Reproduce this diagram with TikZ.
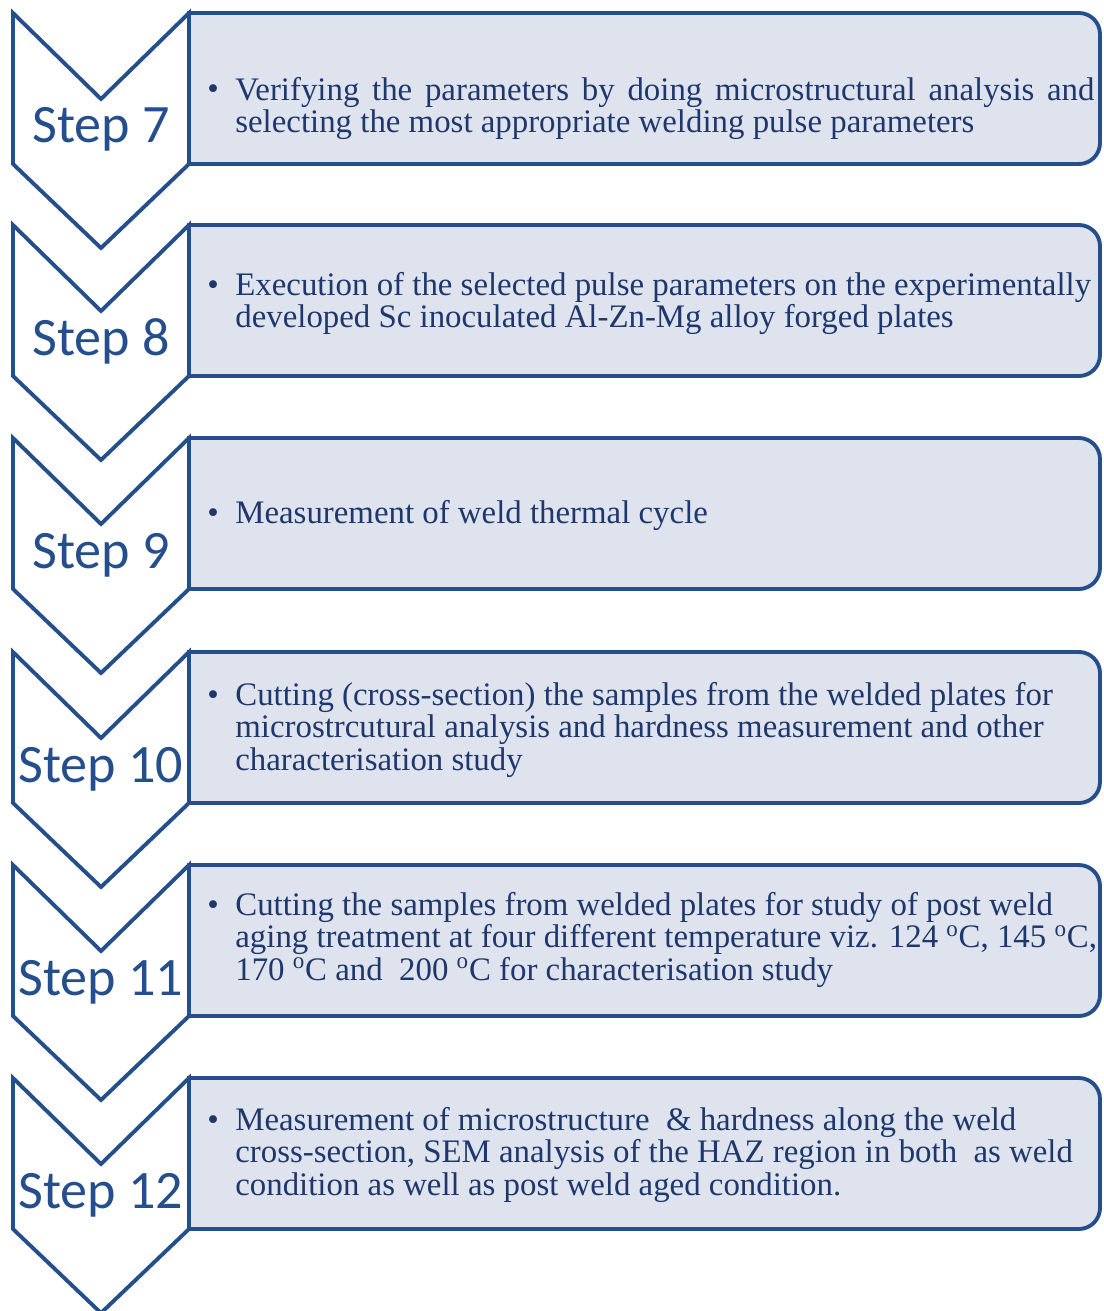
\documentclass[tikz,border=0pt]{standalone}
\usepackage{fontspec}
\setmainfont{Liberation Serif}
\newfontfamily\stepfont{Carlito}
\usetikzlibrary{calc}
\definecolor{stepblue}{RGB}{36,78,140}
\definecolor{textblue}{RGB}{30,56,110}
\definecolor{boxfill}{RGB}{222,227,238}
\def\chevron(#1){\draw[line width=2.2pt, color=stepblue, fill=white, line join=miter] (13, #1) -- (101, #1+86) -- (189, #1) -- (189, #1+151) -- (101, #1+235) -- (13, #1+151) -- cycle;}
\def\panel(#1){\draw[line width=2.2pt, color=stepblue, fill=boxfill] (189, #1) [rounded corners=12pt] -- (1100, #1) -- (1100, #1+151) [sharp corners] -- (189, #1+151) -- cycle;}

\begin{document}
\begin{tikzpicture}[x=0.02cm, y=-0.02cm]
			%%%%% START %%%%%
			\useasboundingbox (0, 0) rectangle (1103, 1311);
			\tikzset{steplabel/.style={font=\stepfont\fontsize{30.8}{32}\selectfont, text=stepblue, anchor=base, inner sep=0pt},
				bullettext/.style={font=\fontsize{18.7}{18.4}\selectfont, text=textblue, anchor=base west, align=left, inner sep=0pt}}
			
			\panel(13)
			\panel(225)
			\panel(438)
			\panel(652)
			\panel(865)
			\panel(1078)
			
			\chevron(13)
			\chevron(225)
			\chevron(438)
			\chevron(652)
			\chevron(865)
			\chevron(1078)
			
			\node[steplabel] (lbl7) at (101, 143) {Step 7};
			\node[steplabel] (lbl8) at (101, 355) {Step 8};
			\node[steplabel] (lbl9) at (101, 568) {Step 9};
			\node[steplabel] (lbl10) at (101, 782) {Step 10};
			\node[steplabel] (lbl11) at (101, 995) {Step 11};
			\node[steplabel] (lbl12) at (101, 1208) {Step 12};
			
			% text nodes sit on the baseline of their last line
			\node[bullettext] (bul7) at (207, 100) {\textbullet};
			\node[bullettext] (txt7) at (235, 132.5) {\makebox[489pt][s]{Verifying the parameters by doing microstructural analysis and}\\selecting the most appropriate welding pulse parameters};
			
			\node[bullettext] (bul8) at (207, 295) {\textbullet};
			\node[bullettext] (txt8) at (235, 327.5) {Execution of the selected pulse parameters on the experimentally\\developed Sc inoculated Al-Zn-Mg alloy forged plates};
			
			\node[bullettext] (bul9) at (207, 523) {\textbullet};
			\node[bullettext] (txt9) at (235, 523) {Measurement of weld thermal cycle};
			
			\node[bullettext] (bul10) at (207, 705) {\textbullet};
			\node[bullettext] (txt10) at (235, 770) {Cutting (cross-section) the samples from the welded plates for\\microstrcutural analysis and hardness measurement and other\\characterisation study};
			
			\node[bullettext] (bul11) at (207, 915) {\textbullet};
			\node[bullettext] (txt11) at (235, 980) {Cutting the samples from welded plates for study of post weld\\aging treatment at four different temperature viz. 124 \textsuperscript{o}C, 145 \textsuperscript{o}C,\\170 \textsuperscript{o}C and \ 200 \textsuperscript{o}C for characterisation study};
			
			\node[bullettext] (bul12) at (207, 1130) {\textbullet};
			\node[bullettext] (txt12) at (235, 1195) {Measurement of microstructure \ \& hardness along the weld\\cross-section, SEM analysis of the HAZ region in both \ as weld\\condition as well as post weld aged condition.};
			
			%%%%% END %%%%%
		\end{tikzpicture}
\end{document}
